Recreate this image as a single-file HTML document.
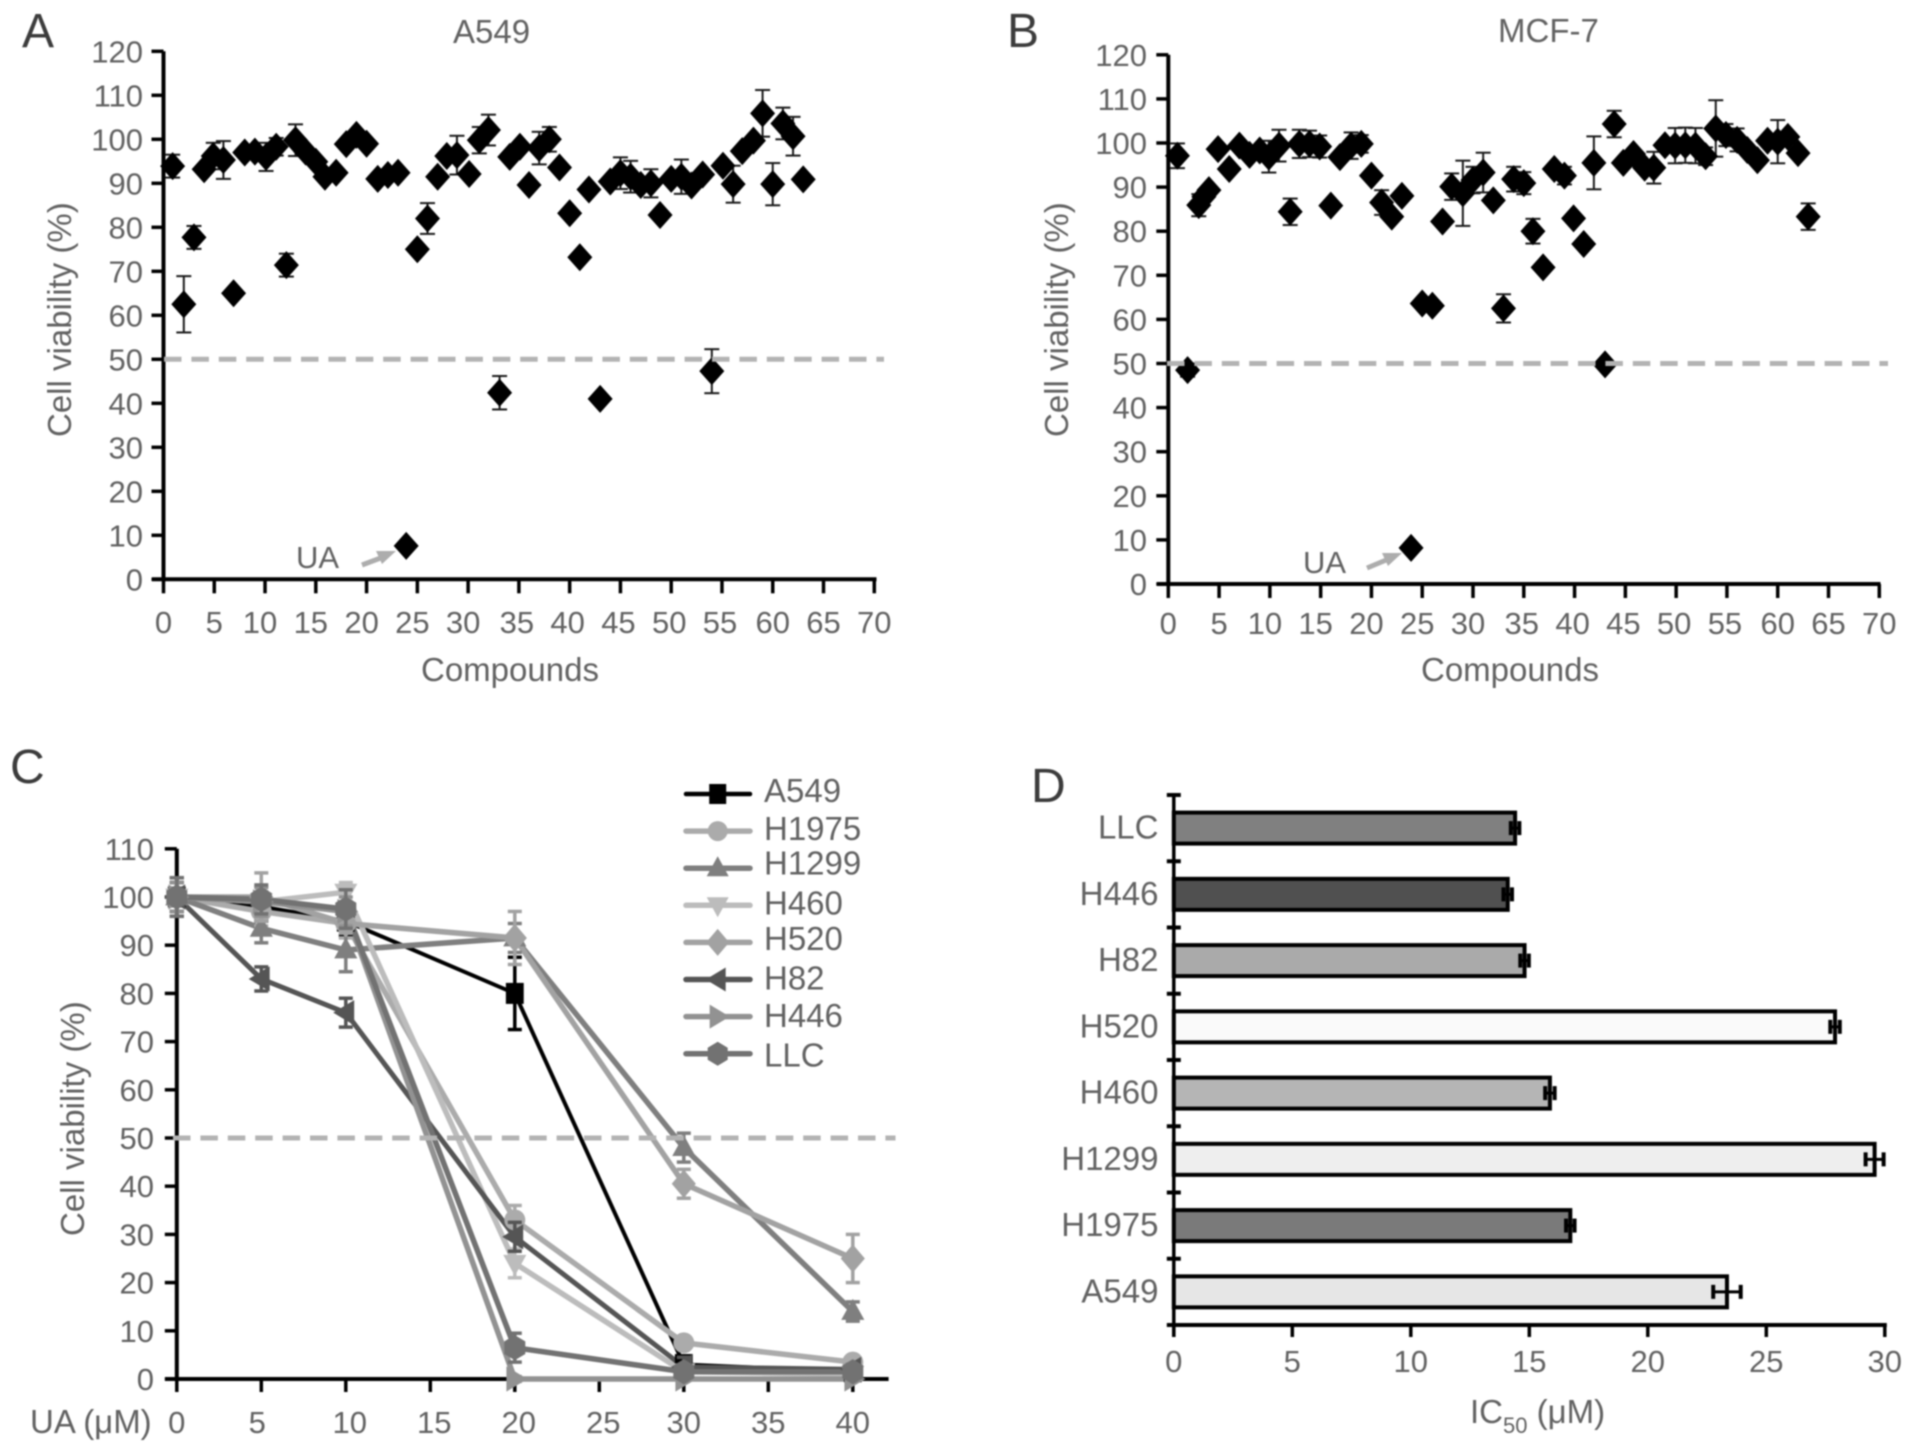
<!DOCTYPE html>
<html lang="en">
<head>
<meta charset="utf-8">
<title>Cell viability panels A-D</title>
<style>
html,body{margin:0;padding:0;background:#fff;}
#figure{display:block;width:1913px;height:1453px;filter:blur(0.8px);}
text{font-family:"Liberation Sans",sans-serif;fill:#626262;}
</style>
</head>
<body>
<svg id="figure" xmlns="http://www.w3.org/2000/svg" width="1913" height="1453" viewBox="0 0 1913 1453">
  <text x="22" y="47" font-size="48" style="fill:#3c3c3c">A</text>
  <text x="1007" y="47" font-size="48" style="fill:#3c3c3c">B</text>
  <text x="10" y="783" font-size="48" style="fill:#3c3c3c">C</text>
  <text x="1031" y="802" font-size="48" style="fill:#3c3c3c">D</text>
  <text x="453" y="43" font-size="33">A549</text>
  <text x="1498" y="42" font-size="33">MCF-7</text>
  <text transform="translate(71,437) rotate(-90)" font-size="33">Cell viability (%)</text>
  <text transform="translate(1068,437) rotate(-90)" font-size="33">Cell viability (%)</text>
  <text transform="translate(84,1236) rotate(-90)" font-size="33">Cell viability (%)</text>
  <text x="421" y="681" font-size="33">Compounds</text>
  <text x="1421" y="681" font-size="33">Compounds</text>
  <text x="30" y="1433" font-size="33">UA (μM)</text>
  <text x="1470" y="1423" font-size="33">IC<tspan font-size="22" dy="10">50</tspan><tspan dy="-10"> (μM)</tspan></text>
  <text x="296" y="568" font-size="31">UA</text>
  <text x="1303" y="573" font-size="31">UA</text>
  <line x1="362" y1="565" x2="386" y2="556" stroke="#adadad" stroke-width="5"/>
  <polygon points="396,551 376,551 382,564" fill="#adadad"/>
  <line x1="1367" y1="568" x2="1391" y2="558" stroke="#adadad" stroke-width="5"/>
  <polygon points="1402,553 1382,553 1388,566" fill="#adadad"/>
</svg>
<script>
// ---------- Panel A data ----------
const compoundsA = [0.9,2,3,4,4.9,5.9,6.9,8,9,10.1,11.1,12.1,13,14,15,15.9,17,18,19,20,21.1,22.1,23.1,23.9,25,26,27,27.9,28.9,30.1,31.1,32,33.1,34.1,35.1,36,37,38,39,40,41,41.9,43,44,45,46,47,48,48.9,50,51,52,53.1,54,55.1,56.1,57,58.1,59,60,61,62,63];
const viabilityA = [93.9,62.5,77.7,93.2,96.2,95.3,65,97,97.2,96,98.3,71.4,99.8,97.2,94.9,91.5,92.4,98.9,101,99,91,91.9,92.4,7.6,75,82,91.5,96.2,96.4,92.1,99.8,102.1,42.4,96,98.3,89.6,98,100,93.6,83.2,73.2,88.6,41,90.4,92.3,91.5,89.6,90,82.8,91,91.5,89.5,92,47.3,94,89.8,97.3,99.7,105.9,89.8,103.6,100.7,90.9];
const errorA = [2.6,6.4,2.6,0,3,4.3,0,0,0,3.2,2,2.6,3.6,0,0,0,0,0,0,0,0,0,0,0,0,3.5,0,0,4.4,0,3,3.5,3.8,0,0,0,3.7,2.8,0,0,0,0,0,0,3.6,3.6,0,3.2,0,0,3.9,0,0,5,0,4.2,0,0,5.3,4.8,3.6,4.4,0];
// ---------- Panel B data ----------
const compoundsB = [0.9,1.9,3,3.5,4,4.9,6,7,8,9,9.9,10.9,12,12.9,13.9,14.9,16,16.9,18,19,20,21,22,23,23.9,25,26,27,27.9,29,30,31,32,33,34,35,35.9,36.9,38,39,39.9,40.9,41.9,43,43.9,44.8,45.8,46.9,47.8,48.9,49.9,50.9,51.9,52.9,53.9,54.9,56,57,58,59,60,61,62,63];
const viabilityB = [97.1,48.5,85.9,87.8,89.3,98.6,94.1,99.4,97.3,98.3,96.9,99.4,84.4,99.8,99.8,99.2,85.8,96.8,99.4,99.8,92.6,86.5,83.3,88,8.2,63.6,63.1,82.2,90.1,88.6,91.6,93.3,87,62.5,91.8,90.9,80,71.8,94.1,92.6,82.9,77.1,95.5,49.8,104.3,95.5,97.5,94.4,94.4,99.5,99.4,99.5,99.4,97,103.3,101.8,100.7,98.4,96.1,100.5,100.3,101.4,97.7,83.3];
const errorB = [2.8,1.5,2.5,0,0,0,0,0,0,0,3.6,3.6,3,3.2,3,2.5,0,0,3,2,0,2.8,0,0,0,0,0,0,3,7.4,3,4.5,0,3.2,2.8,2.5,2.8,0,0,2,0,0,6,0,3,0,0,0,3.6,0,4,4,4,2,6.4,2.5,2.6,0,0,0,4.9,0,0,3];
const compoundTicks = [0,5,10,15,20,25,30,35,40,45,50,55,60,65,70];
const viabilityTicksAB = [0,10,20,30,40,50,60,70,80,90,100,110,120];
// ---------- Panel C data ----------
const doseTicks = [0,5,10,15,20,25,30,35,40];
const viabilityTicksC = [0,10,20,30,40,50,60,70,80,90,100,110];
const doses = [0,5,10,20,30,40];
const cellLines = ['A549','H1975','H1299','H460','H520','H82','H446','LLC'];
const seriesA549 = [100,98,95,80,3,1.5];
const seriesH1975 = [100,97,94.5,33,7.5,3.5];
const seriesH1299 = [100,93.5,89,91.5,48,14];
const seriesH460 = [100,99,101,24,1.5,1];
const seriesH520 = [100,100,94.5,91.5,40.5,25];
const seriesH82 = [100,83,76,29.5,2.5,2];
const seriesH446 = [100,99,97,0,0,0];
const seriesLLC = [100,99.5,97.5,6.5,1.5,1.5];
const errA549 = [4,3,3,7.5,1,0.5];
const errH1975 = [3,3,3,3,1,0.5];
const errH1299 = [3,3,4.5,3,3,2];
const errH460 = [3,3,2,3,1,0.5];
const errH520 = [3,5,2,5.5,3,5];
const errH82 = [3,2.5,3,3,2,1];
const errH446 = [3,3,3,0.5,0.3,0.3];
const errLLC = [4,3,4,3,1,1];
// ---------- Panel D data (top to bottom) ----------
const icLabels = ['LLC','H446','H82','H520','H460','H1299','H1975','A549'];
const icValues = [14.4,14.09,14.8,27.9,15.87,29.57,16.73,23.34];
const icErrors = [0.18,0.18,0.18,0.2,0.2,0.38,0.18,0.58];
const icTicks = [0,5,10,15,20,25,30];
const icFills = ['#808080','#505050','#aaaaaa','#fafafa','#b5b5b5','#eeeeee','#7a7a7a','#e6e6e6'];

const svg = document.getElementById('figure');
const NS = 'http://www.w3.org/2000/svg';
function mk(tag, attrs, txt){
  const e = document.createElementNS(NS, tag);
  for (const k in attrs) e.setAttribute(k, attrs[k]);
  if (txt !== undefined) e.textContent = txt;
  svg.appendChild(e);
  return e;
}
function hLine(x1,x2,y,stroke,w){ return mk('line',{x1:x1,x2:x2,y1:y,y2:y,stroke:stroke,'stroke-width':w}); }
function vLine(x,y1,y2,stroke,w){ return mk('line',{x1:x,x2:x,y1:y1,y2:y2,stroke:stroke,'stroke-width':w}); }

// Axis scale functions
const xA = v => 163.5 + v * 10.154;
const yA = v => 579.3 - v * 4.4;
const xB = v => 1168.3 + v * 10.157;
const yB = v => 584 - v * 4.41;
const xC = v => 176.8 + v * 16.9;
const yC = v => 1379 - v * 4.82;
const xD = v => 1173.8 + v * 23.7;
const yD = i => 795 + i * 66.25;

function yAxis(prefix, xs, ys, ticks, top, bottom, labelRight){
  const ax = vLine(xs, ys(top), ys(bottom) + 2, '#000', 4);
  
  
  ticks.forEach(t => {
    const tk = hLine(xs - 12, xs, ys(t), '#000', 3.5);
    
    
    const lb = mk('text', {x: labelRight, y: ys(t) + 11, 'font-size': 31, 'text-anchor': 'end'}, String(t));
    
    
  });
}
function xAxis(prefix, xf, axisY, ticks, x1, x2, tickLen, labelY, dx){
  const ax = hLine(x1, x2, axisY, '#000', 4);
  
  
  ticks.forEach(t => {
    const tk = vLine(xf(t), axisY, axisY + tickLen, '#000', 3.5);
    
    
    const lb = mk('text', {x: xf(t) + dx(t), y: labelY, 'font-size': 31, 'text-anchor': 'middle'}, String(t));
    
    
  });
}
function errorBar(prefix, x, y1, y2, hw, color, w){
  const s = vLine(x, y1, y2, color, w);
  
  
  const c1 = hLine(x - hw, x + hw, y1, color, w);
  
  
  const c2 = hLine(x - hw, x + hw, y2, color, w);
  
  
}
function scatter(prefix, xs, ys, cx, cy, ce){
  cx.forEach((c, i) => {
    if (ce[i] > 0) errorBar(prefix, xs(c), ys(cy[i] + ce[i]), ys(cy[i] - ce[i]), 7.5, '#1a1a1a', 2);
  });
  cx.forEach((c, i) => {
    const px = xs(c), py = ys(cy[i]);
    const d = mk('polygon', {points: [[px, py - 14], [px + 12.5, py], [px, py + 14], [px - 12.5, py]].join(' '), fill: '#000'});
    
    
  });
}
function dashed(prefix, x1, x2, y){
  const l = hLine(x1, x2, y, '#b3b3b3', 5);
  l.setAttribute('stroke-dasharray', '17.5 9.9');
  
  
}
const nudgeAB = t => (t >= 10 && t <= 30) ? -5 : ((t >= 35 && t <= 55) ? -2 : 0);
const nudgeC = t => (t >= 10 && t <= 25) ? 4 : (t === 5 ? -4 : 0);

// Panel A
yAxis('panel-a', 163.5, yA, viabilityTicksAB, 120, 0, 143);
xAxis('panel-a', xA, yA(0), compoundTicks, 152, 876.5, 14, 633, nudgeAB);
scatter('panel-a', xA, yA, compoundsA, viabilityA, errorA);
dashed('panel-a', 164, 884, yA(50));

// Panel B
yAxis('panel-b', 1168.3, yB, viabilityTicksAB, 120, 0, 1147);
xAxis('panel-b', xB, yB(0), compoundTicks, 1157, 1880.5, 14, 634, nudgeAB);
scatter('panel-b', xB, yB, compoundsB, viabilityB, errorB);
dashed('panel-b', 1167, 1888, yB(50));

// Panel C
yAxis('panel-c', 176.8, yC, viabilityTicksC, 110, 0, 154);
xAxis('panel-c', xC, yC(0), doseTicks, 165, 888.6, 13, 1433, nudgeC);
const seriesValues = [seriesA549, seriesH1975, seriesH1299, seriesH460, seriesH520, seriesH82, seriesH446, seriesLLC];
const seriesErrors = [errA549, errH1975, errH1299, errH460, errH520, errH82, errH446, errLLC];
const seriesColors = ['#000000','#ababab','#7f7f7f','#bcbcbc','#a2a2a2','#555555','#929292','#727272'];
const seriesShapes = ['square','circle','up','down','diamond','left','right','hex'];
const seriesWidths = [4,5.5,5.5,5.5,5.5,5,5.5,5.5];
const legendLabelShift = [-1,0,-2.5,0,-1.5,1,1.5,4];
function marker(shape, x, y, r, color){
  const pts = {
    up: [[0,-r*1.2],[r*1.1,r*.8],[-r*1.1,r*.8]],
    down: [[0,r*1.2],[r*1.1,-r*.8],[-r*1.1,-r*.8]],
    left: [[-r*1.2,0],[r*.8,-r*1.2],[r*.8,r*1.2]],
    right: [[r*1.2,0],[-r*.8,-r*1.2],[-r*.8,r*1.2]],
    diamond: [[0,-r*1.35],[r*1.15,0],[0,r*1.35],[-r*1.15,0]],
    hex: [[0,-r*1.2],[r,-r*.6],[r,r*.6],[0,r*1.2],[-r,r*.6],[-r,-r*.6]]
  };
  if (shape === 'square') return mk('rect', {x: x - r*.85, y: y - r, width: r*1.7, height: r*2, fill: color});
  if (shape === 'circle') return mk('circle', {cx: x, cy: y, r: r, fill: color});
  return mk('polygon', {points: pts[shape].map(p => [x + p[0], y + p[1]].join(',')).join(' '), fill: color});
}
seriesValues.forEach((vals, s) => {
  const name = cellLines[s].toLowerCase();
  const line = mk('polyline', {points: vals.map((v, i) => xC(doses[i]) + ',' + yC(v)).join(' '), fill: 'none', stroke: seriesColors[s], 'stroke-width': seriesWidths[s], 'stroke-linejoin': 'round'});
  
  
});
seriesValues.forEach((vals, s) => {
  const name = cellLines[s].toLowerCase();
  vals.forEach((v, i) => {
    errorBar('series-' + name, xC(doses[i]), yC(v + seriesErrors[s][i]), yC(v - seriesErrors[s][i]), 7, seriesColors[s], 3.5);
    const m = marker(seriesShapes[s], xC(doses[i]), yC(v), 10.5, seriesColors[s]);
    
    
  });
});
dashed('panel-c', 173, 895.5, yC(50));

// Legend
cellLines.forEach((n, s) => {
  const ly = 794 + 37.1 * s;
  const name = n.toLowerCase();
  const l = hLine(686, 750, ly, seriesColors[s], s === 0 ? 4.5 : 5.5);
  l.setAttribute('stroke-linecap', 'round');
  
  
  const m = marker(seriesShapes[s], 717.7, ly, 10, seriesColors[s]);
  
  
  const t = mk('text', {x: 764, y: ly + 9 + legendLabelShift[s], 'font-size': 33}, n);
  
  
});

// Panel D
icLabels.forEach((n, i) => {
  const name = n.toLowerCase();
  const cy = yD(i) + 33.1;
  const w = xD(icValues[i]) - xD(0);
  const bar = mk('rect', {x: xD(0), y: cy - 15.5, width: w, height: 31, fill: icFills[i], stroke: '#000', 'stroke-width': 4});
  
  
  const e1 = hLine(xD(icValues[i] - icErrors[i]), xD(icValues[i] + icErrors[i]), cy, '#000', 3);
  
  
  const c1 = vLine(xD(icValues[i] - icErrors[i]), cy - 7, cy + 7, '#000', 4);
  
  
  const c2 = vLine(xD(icValues[i] + icErrors[i]), cy - 7, cy + 7, '#000', 4);
  
  
  const t = mk('text', {x: 1158.5, y: cy + 10.5, 'font-size': 33, 'text-anchor': 'end'}, n);
  
  
});
const dAxis = vLine(xD(0), yD(0), yD(8) + 12, '#000', 3.5);


icLabels.concat(['end']).forEach((n, i) => {
  const tk = hLine(xD(0) - 7, xD(0) + 7, yD(i), '#000', 4);
  
  
});
xAxis('panel-d', xD, yD(8), icTicks, xD(0), xD(30) + 2, 12, 1372, () => 0);
</script>
</body>
</html>
